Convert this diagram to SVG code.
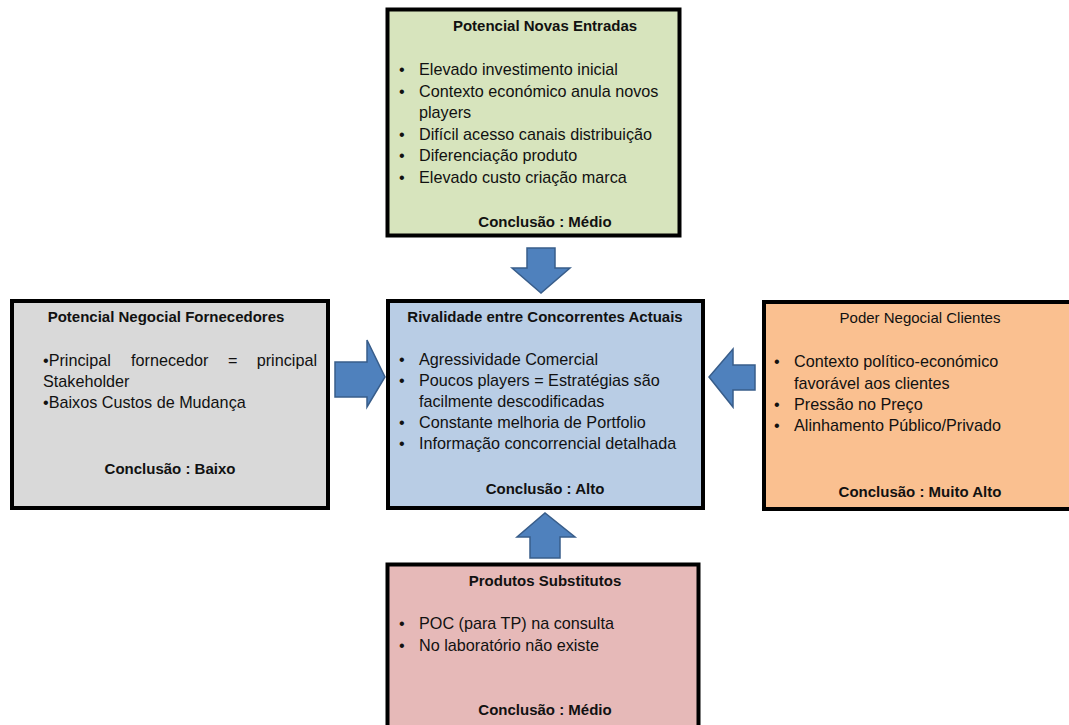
<svg xmlns="http://www.w3.org/2000/svg" width="1069" height="725" viewBox="0 0 1069 725">
<style>
.box{stroke:#000;stroke-width:4}
.t{font-family:"Liberation Sans",Arial,sans-serif;font-size:16.2px;fill:#111}
.b{font-family:"Liberation Sans",Arial,sans-serif;font-size:15px;font-weight:bold;fill:#111}
.h{font-family:"Liberation Sans",Arial,sans-serif;font-size:15px;fill:#111}
.c{text-anchor:middle}
.arrow{fill:#4f81bd;stroke:#385d8a;stroke-width:1.5;stroke-linejoin:miter}
</style>
<rect width="1069" height="725" fill="#fff"/>
<g id="connectors">
<path class="arrow" d="M527,248 L555,248 L555,268 L570,268 L541,293 L512,268 L527,268 Z"/>
<path class="arrow" d="M335,362 L367,362 L367,340 L385,377 L367,407 L367,397 L335,397 Z"/>
<path class="arrow" d="M755,365 L733,365 L733,349 L709,377 L733,407 L733,390 L755,390 Z"/>
<path class="arrow" d="M530,558 L530,537 L517,537 L545,513 L575,537 L560,537 L560,558 Z"/>
</g>
<g id="novas-entradas">
<rect class="box" x="387.5" y="9.5" width="292" height="226" fill="#d7e4bd"/>
<text class="b c" x="545" y="31">Potencial Novas Entradas</text>
<text class="t" x="399" y="75">•</text><text class="t" x="419" y="75">Elevado investimento inicial</text>
<text class="t" x="399" y="97">•</text><text class="t" x="419" y="97">Contexto económico anula novos</text>
<text class="t" x="419" y="118">players</text>
<text class="t" x="399" y="140">•</text><text class="t" x="419" y="140">Difícil acesso canais distribuição</text>
<text class="t" x="399" y="161">•</text><text class="t" x="419" y="161">Diferenciação produto</text>
<text class="t" x="399" y="183">•</text><text class="t" x="419" y="183">Elevado custo criação marca</text>
<text class="b c" x="545" y="227">Conclusão : Médio</text>
</g>
<g id="fornecedores">
<rect class="box" x="12" y="301" width="316" height="207" fill="#d9d9d9"/>
<text class="b c" x="166" y="322">Potencial Negocial Fornecedores</text>
<text class="t" x="43" y="366">•Principal</text>
<text class="t" x="131" y="366">fornecedor</text>
<text class="t" x="228" y="366">=</text>
<text class="t" x="317" y="366" text-anchor="end">principal</text>
<text class="t" x="43" y="387">Stakeholder</text>
<text class="t" x="43" y="408">•Baixos Custos de Mudança</text>
<text class="b c" x="170" y="474">Conclusão : Baixo</text>
</g>
<g id="rivalidade">
<rect class="box" x="388" y="301" width="315" height="207" fill="#b9cde5"/>
<text class="b c" x="545" y="322">Rivalidade entre Concorrentes Actuais</text>
<text class="t" x="399" y="365">•</text><text class="t" x="419" y="365">Agressividade Comercial</text>
<text class="t" x="399" y="386">•</text><text class="t" x="419" y="386">Poucos players = Estratégias são</text>
<text class="t" x="419" y="407">facilmente descodificadas</text>
<text class="t" x="399" y="428">•</text><text class="t" x="419" y="428">Constante melhoria de Portfolio</text>
<text class="t" x="399" y="449">•</text><text class="t" x="419" y="449">Informação concorrencial detalhada</text>
<text class="b c" x="545" y="494">Conclusão : Alto</text>
</g>
<g id="clientes">
<rect class="box" x="764" y="302" width="311" height="207" fill="#fac090"/>
<text class="h c" x="920" y="323">Poder Negocial Clientes</text>
<text class="t" x="774" y="367">•</text><text class="t" x="794" y="367">Contexto político-económico</text>
<text class="t" x="794" y="389">favorável aos clientes</text>
<text class="t" x="774" y="410">•</text><text class="t" x="794" y="410">Pressão no Preço</text>
<text class="t" x="774" y="431">•</text><text class="t" x="794" y="431">Alinhamento Público/Privado</text>
<text class="b c" x="920" y="497">Conclusão : Muito Alto</text>
</g>
<g id="substitutos">
<rect class="box" x="387.5" y="564.5" width="311" height="175" fill="#e6b9b8"/>
<text class="b c" x="545" y="586">Produtos Substitutos</text>
<text class="t" x="399" y="629">•</text><text class="t" x="419" y="629">POC (para TP) na consulta</text>
<text class="t" x="399" y="651">•</text><text class="t" x="419" y="651">No laboratório não existe</text>
<text class="b c" x="545" y="715">Conclusão : Médio</text>
</g>
</svg>
